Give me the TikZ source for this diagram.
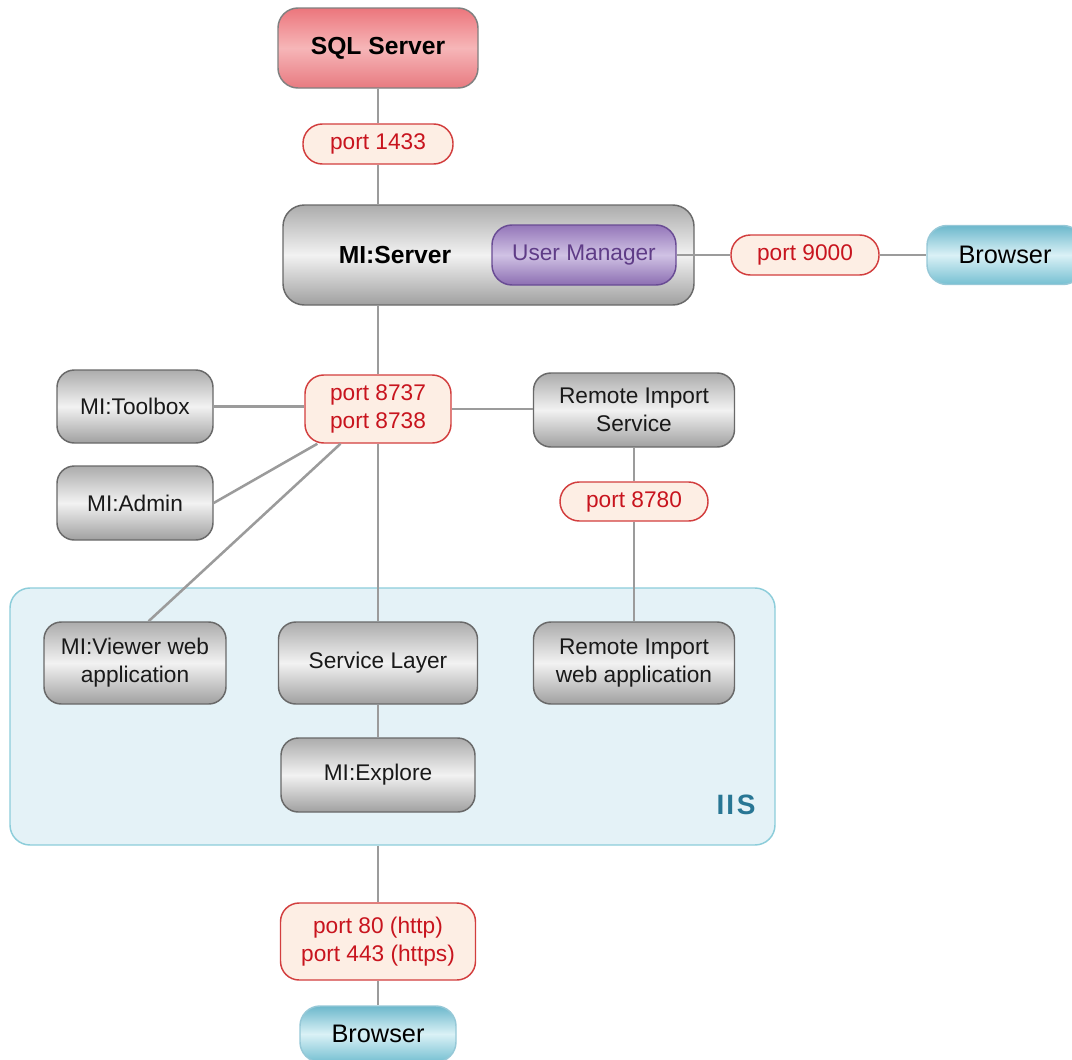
\documentclass[tikz,border=0pt]{standalone}
\usepackage{fontspec}
\setmainfont{Liberation Sans}
\definecolor{gtop}{RGB}{172,172,172}
\definecolor{gmid}{RGB}{242,242,242}
\definecolor{gbot}{RGB}{160,160,160}
\definecolor{gline}{RGB}{105,105,105}
\definecolor{umtop}{RGB}{148,118,185}
\definecolor{ummid}{RGB}{208,194,228}
\definecolor{umbot}{RGB}{140,110,178}
\definecolor{umline}{RGB}{105,75,148}
\definecolor{umtext}{RGB}{95,60,135}
\definecolor{brtop}{RGB}{108,184,204}
\definecolor{brmid}{RGB}{218,241,246}
\definecolor{brbot}{RGB}{118,192,210}
\definecolor{brline}{RGB}{150,200,215}
\definecolor{iisfill}{RGB}{228,242,247}
\definecolor{iisline}{RGB}{140,205,218}
\definecolor{iistext}{RGB}{40,118,148}
\definecolor{sqltop}{RGB}{236,118,124}
\definecolor{sqlmid}{RGB}{246,182,184}
\definecolor{sqlbot}{RGB}{232,122,128}
\definecolor{pfill}{RGB}{253,238,228}
\definecolor{pline}{RGB}{210,62,62}
\definecolor{ptext}{RGB}{200,20,30}
\definecolor{cline}{RGB}{155,155,155}
\begin{document}
\begin{tikzpicture}[x=0.75pt,y=-0.75pt,
  every node/.style={inner sep=0pt, align=center, font=\fontsize{17}{21}\selectfont},
  graybox/.style={draw=gline, line width=1.1pt, rounded corners=13pt,
    top color=gtop, bottom color=gbot, middle color=gmid, text=black!90},
  portbox/.style={draw=pline, line width=1.1pt, fill=pfill, text=ptext,
    rounded corners=14pt},
  pill/.style={portbox, rounded corners=14.5pt},
  sqlbox/.style={draw=black!50, line width=1.1pt, rounded corners=15pt,
    top color=sqltop, bottom color=sqlbot, middle color=sqlmid},
  umbox/.style={draw=umline, line width=1.1pt, rounded corners=15pt,
    top color=umtop, bottom color=umbot, middle color=ummid, text=umtext},
  brbox/.style={draw=brline, line width=1.1pt, rounded corners=15pt,
    top color=brtop, bottom color=brbot, middle color=brmid,
    font=\fontsize{19}{22}\selectfont},
  conn/.style={draw=cline, line width=1.9pt}
]
\useasboundingbox (0,0) rectangle (1072,1060);

% IIS container
\node[draw=iisline, line width=1.1pt, fill=iisfill, rounded corners=15pt,
  minimum width=573.75pt, minimum height=192.75pt] (iis) at (392.5,716.5) {};
\node[font=\bfseries\fontsize{21}{24}\selectfont, text=iistext] (iislbl) at (736,805) {I\kern1.5pt I\kern2pt S};

% nodes
\node[sqlbox, minimum width=150pt, minimum height=60pt, font=\bfseries\fontsize{18.5}{22}\selectfont] (sql) at (378,48) {SQL Server};
\node[pill, minimum width=112.5pt, minimum height=30pt] (p1433) at (378,144) {port 1433};
\node[graybox, rounded corners=16pt, minimum width=308.25pt, minimum height=75pt] (srv) at (488.5,255) {};
\node[font=\bfseries\fontsize{18.5}{22}\selectfont] (srvlbl) at (395,255) {MI:Server};
\node[umbox, minimum width=138pt, minimum height=45pt] (um) at (584,255) {User Manager};
\node[pill, minimum width=111pt, minimum height=30pt] (p9000) at (805,255) {port 9000};
\node[brbox, minimum width=117pt, minimum height=44.25pt] (br1) at (1005,255) {Browser};

\node[portbox, minimum width=109.5pt, minimum height=51pt] (p8737) at (378,409) {port 8737\\port 8738};
\node[graybox, minimum width=117pt, minimum height=54.75pt] (tool) at (135,406.5) {MI:Toolbox};
\node[graybox, minimum width=117pt, minimum height=55.5pt] (admin) at (135,503) {MI:Admin};
\node[graybox, minimum width=150.75pt, minimum height=55.5pt] (ris) at (634,410) {Remote Import\\Service};
\node[pill, minimum width=111pt, minimum height=29.25pt] (p8780) at (634,501.5) {port 8780};

\node[graybox, minimum width=136.5pt, minimum height=61.5pt] (viewer) at (135,663) {MI:Viewer web\\application};
\node[graybox, minimum width=149.25pt, minimum height=61.5pt] (svc) at (378,663) {Service Layer};
\node[graybox, minimum width=150.75pt, minimum height=61.5pt] (riweb) at (634,663) {Remote Import\\web application};
\node[graybox, minimum width=145.5pt, minimum height=55.5pt] (explore) at (378,775) {MI:Explore};

\node[portbox, minimum width=146.25pt, minimum height=57.75pt] (p80) at (378,941.5) {port 80 (http)\\port 443 (https)};
\node[brbox, minimum width=117pt, minimum height=42pt] (br2) at (378,1034) {Browser};

% connectors
\draw[conn] (sql.south) -- (p1433.north);
\draw[conn] (p1433.south) -- (p1433.south |- srv.north);
\draw[conn] (p1433.south |- srv.south) -- (p8737.north);
\draw[conn] (um.east) -- (p9000.west);
\draw[conn] (p9000.east) -- (br1.west);
\draw[conn] (tool.east) -- (tool.east -| p8737.west);
\draw[conn] (admin.east) -- (p8737);
\draw[conn] (viewer.72) -- (p8737);
\draw[conn] (p8737.east) -- (p8737.east -| ris.west);
\draw[conn] (p8737.south) -- (svc.north);
\draw[conn] (ris.south) -- (p8780.north);
\draw[conn] (p8780.south) -- (riweb.north);
\draw[conn] (svc.south) -- (explore.north);
\draw[conn] (iis.south -| p80.north) -- (p80.north);
\draw[conn] (p80.south) -- (br2.north);
\end{tikzpicture}
\end{document}
